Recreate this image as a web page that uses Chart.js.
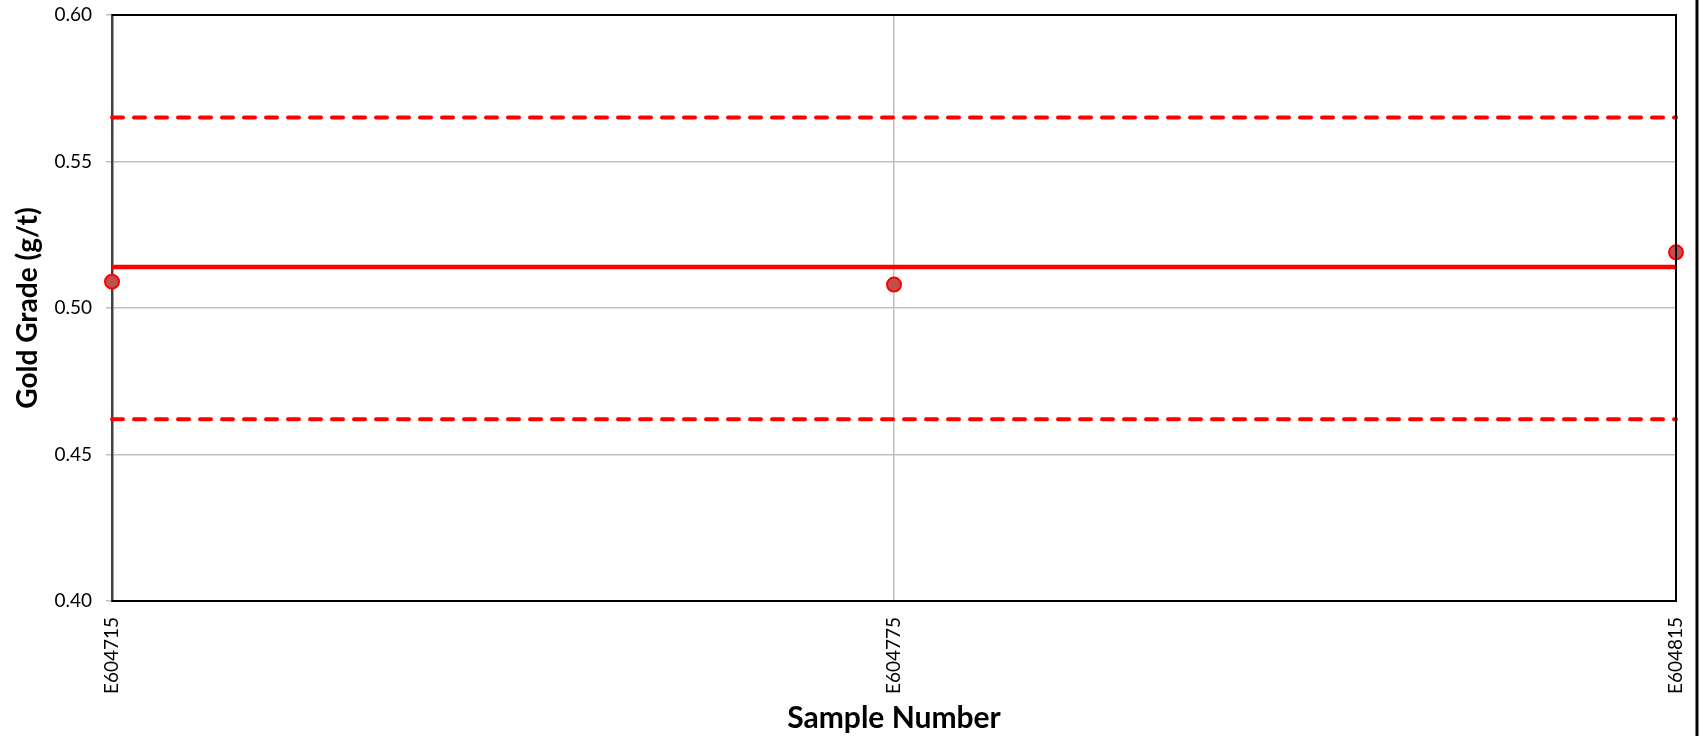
<!DOCTYPE html>
<html>
<head>
<meta charset="utf-8">
<script src="https://cdn.jsdelivr.net/npm/chart.js@4.4.0/dist/chart.umd.min.js"></script>
<style>
  html, body { margin: 0; padding: 0; background: #fff; }
  #wrap { width: 1704px; height: 736px; position: relative; }
</style>
</head>
<body>
<div id="wrap"><canvas id="chart"></canvas></div>
<script>
const samples = ['E604715', 'E604775', 'E604815'];
const goldGrade = [0.509, 0.508, 0.519];
const meanValue = 0.514;
const upperLimit = 0.565;
const lowerLimit = 0.462;
const yTicks = [0.40, 0.45, 0.50, 0.55, 0.60];

// plot frame + outer right rule
const framePlugin = {
    id: 'frame',
    afterDraw(chart) {
        const { ctx, chartArea } = chart;
        ctx.save();
        ctx.strokeStyle = '#000';
        ctx.lineWidth = 2;
        ctx.beginPath();
        ctx.moveTo(chartArea.left, chartArea.top);
        ctx.lineTo(chartArea.right, chartArea.top);
        ctx.lineTo(chartArea.right, chartArea.bottom);
        ctx.lineTo(chartArea.left, chartArea.bottom);
        ctx.stroke();
        ctx.lineWidth = 3;
        ctx.beginPath();
        ctx.moveTo(chart.width - 7, 0);
        ctx.lineTo(chart.width - 7, chart.height);
        ctx.stroke();
        ctx.restore();
    }
};

const flat = v => samples.map(() => v);

new Chart(document.getElementById('chart'), {
    type: 'line',
    data: {
        labels: samples,
        datasets: [
            {
                label: 'Gold Grade',
                data: goldGrade,
                showLine: false,
                pointRadius: 7,
                pointBackgroundColor: '#c0504d',
                pointBorderColor: '#ff0000',
                pointBorderWidth: 2,
                order: 0
            },
            {
                label: 'Mean',
                data: flat(meanValue),
                borderColor: '#ff0000',
                borderWidth: 4.5,
                pointRadius: 0,
                order: 1
            },
            {
                label: 'Upper',
                data: flat(upperLimit),
                borderColor: '#ff0000',
                borderWidth: 4,
                borderDash: [11, 11],
                borderCapStyle: 'round',
                pointRadius: 0,
                order: 1
            },
            {
                label: 'Lower',
                data: flat(lowerLimit),
                borderColor: '#ff0000',
                borderWidth: 4,
                borderDash: [11, 11],
                borderCapStyle: 'round',
                pointRadius: 0,
                order: 1
            }
        ]
    },
    options: {
        responsive: true,
        maintainAspectRatio: false,
        animation: false,
        layout: { padding: { top: 15, right: 28, left: 0, bottom: 0 } },
        plugins: {
            legend: { display: false },
            tooltip: { enabled: false }
        },
        scales: {
            x: {
                offset: false,
                grid: { color: '#bfbfbf', lineWidth: 1.5, drawTicks: false },
                border: { color: '#000', width: 2 },
                ticks: {
                    color: '#000',
                    font: { family: 'Lato', size: 19 },
                    minRotation: 90,
                    maxRotation: 90,
                    padding: 16
                },
                title: {
                    display: true,
                    text: 'Sample Number',
                    color: '#000',
                    font: { family: 'Lato', size: 30, weight: 'bold' },
                    padding: { top: 0, bottom: 0 }
                },
                afterFit(scale) {
                    scale.height = 135;
                    scale.paddingLeft = 0;
                    scale.paddingRight = 0;
                }
            },
            y: {
                min: 0.40,
                max: 0.60,
                afterBuildTicks(scale) { scale.ticks = yTicks.map(v => ({ value: v })); },
                grid: { color: '#bfbfbf', lineWidth: 1.5, tickLength: 6 },
                border: { color: '#404040', width: 2.5 },
                ticks: {
                    color: '#000',
                    font: { family: 'Lato', size: 19 },
                    padding: 14,
                    callback: v => v.toFixed(2)
                },
                title: {
                    display: true,
                    text: 'Gold Grade (g/t)',
                    color: '#000',
                    font: { family: 'Lato', size: 28, weight: 'bold' },
                    padding: { top: 11, bottom: 0 }
                },
                afterFit(scale) {
                    scale.width = 112;
                    scale.paddingTop = 0;
                    scale.paddingBottom = 0;
                }
            }
        }
    },
    plugins: [framePlugin]
});
</script>
</body>
</html>
